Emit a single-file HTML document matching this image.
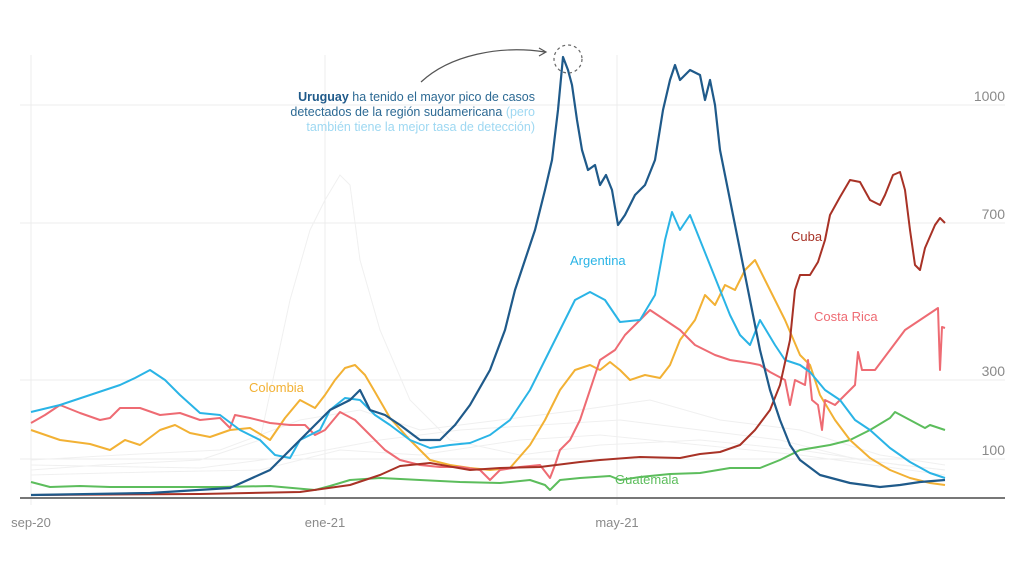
<!DOCTYPE html>
<html><head><meta charset="utf-8"><style>
html,body{margin:0;padding:0;background:#fff;}
svg{display:block;font-family:"Liberation Sans",sans-serif;}
</style></head><body>
<svg width="1024" height="576" viewBox="0 0 1024 576" xmlns="http://www.w3.org/2000/svg">
<g stroke="#ececec" stroke-width="1">
<line x1="20" y1="105" x2="1005" y2="105"/>
<line x1="20" y1="223" x2="1005" y2="223"/>
<line x1="20" y1="380" x2="1005" y2="380"/>
<line x1="20" y1="459" x2="1005" y2="459"/>
<line x1="31" y1="55" x2="31" y2="505"/>
<line x1="325" y1="55" x2="325" y2="505"/>
<line x1="617" y1="55" x2="617" y2="505"/>
</g>
<g fill="#8a8a8a" font-size="14" text-anchor="end">
<text x="1005" y="101">1000</text>
<text x="1005" y="219">700</text>
<text x="1005" y="376">300</text>
<text x="1005" y="455">100</text>
</g>
<g fill="#8a8a8a" font-size="13" text-anchor="middle">
<text x="31" y="527">sep-20</text>
<text x="325" y="527">ene-21</text>
<text x="617" y="527">may-21</text>
</g>
<g fill="none" stroke="#f0f0f0" stroke-width="1">
<polyline points="31,470 100,465 200,460 260,440 290,300 310,230 325,200 340,175 350,185 360,260 380,330 410,400 450,440 520,455 600,445 700,440 800,450 900,465 945,470"/>
<polyline points="31,460 120,455 220,450 300,420 360,410 420,430 500,420 580,410 650,400 720,420 800,430 880,455 945,465"/>
<polyline points="31,475 150,472 260,470 340,450 420,455 520,440 600,435 700,445 800,455 945,475"/>
<polyline points="31,465 200,468 300,455 380,440 460,430 540,425 620,420 700,430 780,440 860,460 945,470"/>
</g>
<line x1="20" y1="498" x2="1005" y2="498" stroke="#777" stroke-width="2"/>
<g fill="none" stroke-width="2" stroke-linejoin="round">
<polyline stroke="#5cbd5c" points="31,482 50,487 80,486 110,487 160,487 220,487 270,486 315,490 330,486 350,480 380,478 420,480 460,482 500,483 530,480 545,485 550,490 560,480 580,478 610,476 620,480 640,477 670,474 700,473 730,468 760,468 780,460 800,450 830,445 850,440 870,430 890,418 895,412 910,420 925,428 930,425 945,430"/>
<polyline stroke="#f2b134" points="31,430 60,440 90,444 110,450 125,440 140,445 160,430 175,425 190,433 210,437 230,430 250,428 270,440 285,418 300,400 315,408 325,395 335,380 345,368 355,365 365,375 375,392 390,418 410,440 430,460 450,465 470,468 490,470 510,468 530,445 545,420 560,390 575,370 590,365 600,370 610,362 620,370 630,380 645,375 660,378 670,365 680,340 695,320 705,295 715,305 725,285 735,290 745,270 755,260 765,280 775,300 785,320 800,355 810,365 820,395 835,420 850,440 870,458 890,470 910,478 930,483 945,485"/>
<polyline stroke="#ee6b73" points="31,423 45,415 60,405 80,413 100,420 110,418 120,408 140,408 160,415 180,413 200,420 220,418 230,428 235,415 250,418 270,423 290,425 305,425 315,435 325,430 340,412 355,420 370,435 385,450 400,460 420,465 440,467 460,467 480,470 490,480 500,470 520,467 540,465 550,478 555,465 560,450 570,440 580,420 590,390 600,360 615,350 625,335 635,325 650,310 665,320 680,330 695,345 705,350 715,355 730,360 750,363 760,365 770,372 785,380 790,405 795,380 805,385 808,360 812,400 818,405 822,430 825,400 835,405 845,395 855,385 858,352 862,370 875,370 890,350 905,330 920,320 938,308 940,370 942,327 945,328"/>
<polyline stroke="#2ab4e6" points="31,412 60,405 90,395 120,385 135,378 150,370 165,380 180,395 200,413 220,415 240,430 260,440 275,455 290,458 300,440 310,435 320,430 330,410 345,398 360,400 375,415 390,425 410,440 430,448 450,445 470,443 490,435 510,420 530,390 545,360 560,330 575,300 590,292 605,300 620,322 640,320 655,295 665,240 672,212 680,230 690,215 700,240 710,265 720,290 730,315 740,335 750,345 760,320 775,345 785,360 800,365 810,372 825,390 840,400 855,420 870,430 890,448 910,462 930,473 945,478"/>
<polyline stroke="#a83226" points="31,495 200,494 300,492 350,485 380,475 400,466 430,463 470,470 500,468 540,467 580,462 600,460 640,457 680,458 700,454 720,452 740,445 755,430 770,410 780,385 790,340 795,290 800,275 810,275 818,262 825,240 830,215 840,197 850,180 860,182 870,200 880,205 885,195 893,175 900,172 905,190 910,230 915,265 920,270 925,248 935,225 940,218 945,223"/>
<polyline stroke="#1f5a8a" stroke-width="2.2" points="31,495 150,493 230,488 270,470 300,440 330,410 350,400 360,390 370,410 385,415 400,425 420,440 440,440 455,425 470,405 490,370 505,330 515,290 525,260 535,230 545,190 552,160 558,110 563,57 568,70 572,85 577,120 582,150 588,170 595,165 600,185 606,175 612,190 618,225 625,215 635,195 645,185 655,160 663,110 670,80 675,65 680,80 690,70 700,75 705,100 710,80 715,105 720,150 730,200 740,250 750,300 760,350 770,390 780,420 790,445 800,460 820,475 850,483 880,487 900,485 920,482 945,480"/>
</g>
<g font-size="13">
<text x="570" y="265" fill="#2ab4e6">Argentina</text>
<text x="249" y="392" fill="#f2b134">Colombia</text>
<text x="791" y="241" fill="#a83226">Cuba</text>
<text x="814" y="321" fill="#ee6b73">Costa Rica</text>
<text x="615" y="484" fill="#5cbd5c">Guatemala</text>
</g>
<circle cx="568" cy="59" r="14" fill="none" stroke="#666" stroke-width="1.2" stroke-dasharray="3,3"/>
<path d="M421,82 C450,55 500,45 545,52" fill="none" stroke="#555" stroke-width="1.2"/>
<path d="M539,48 L546,52 L539,56" fill="none" stroke="#555" stroke-width="1.2"/>
<g font-size="12.5" text-anchor="end">
<text x="535" y="101" fill="#2d6a94"><tspan font-weight="bold" fill="#1f5a8a">Uruguay</tspan> ha tenido el mayor pico de casos</text>
<text x="535" y="116" fill="#2d6a94">detectados de la región sudamericana <tspan fill="#9ed8f2">(pero</tspan></text>
<text x="535" y="131" fill="#9ed8f2">también tiene la mejor tasa de detección)</text>
</g>
</svg>
</body></html>
